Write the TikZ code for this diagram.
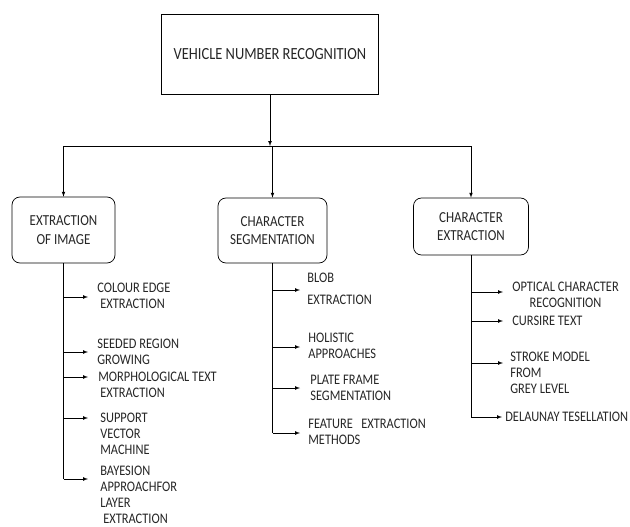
\documentclass[tikz,border=0pt]{standalone}
\usepackage{fontspec}
\setmainfont{Carlito}[FakeStretch=0.85]
\usetikzlibrary{positioning}

\begin{document}
\begin{tikzpicture}[x=1pt, y=-1pt, >=latex, line width=0.7pt,
  every node/.style={text=black!85, font=\fontsize{14.6}{16}\selectfont},
  mainbox/.style={draw, minimum width=217pt, minimum height=80pt, font=\fontsize{17}{19}\selectfont},
  catbox/.style={draw, rounded corners=8pt, align=center, inner sep=0pt, font=\fontsize{15.3}{18.5}\selectfont},
  item/.style={align=left, inner sep=0pt}]
\useasboundingbox (0,0) rectangle (630,527);
\node[mainbox] (vnr) at (270,54) {VEHICLE NUMBER RECOGNITION};
\node[catbox, minimum width=103pt, minimum height=66pt] (img) at (63.5,230) {EXTRACTION\\OF IMAGE};
\node[catbox, minimum width=109pt, minimum height=65pt] (seg) at (272.5,230.5) {CHARACTER\\SEGMENTATION};
\node[catbox, minimum width=115pt, minimum height=57pt] (chx) at (471,226.5) {CHARACTER\\EXTRACTION};
\coordinate (bus) at (270,146);
\draw[->] (vnr) -- (bus);
\draw (img.north |- bus) -- (chx.north |- bus);
\draw[->] (img.north |- bus) -- (img);
\draw[->] (seg.north |- bus) -- (seg);
\draw[->] (chx.north |- bus) -- (chx);
% extraction of image
\coordinate (i1) at (88,297);
\coordinate (i2) at (88,352);
\coordinate (i3) at (88,377);
\coordinate (i4) at (88,418);
\coordinate (i5) at (88,479);
\node[item, right=9pt of i1, yshift=1.5pt] (colour) {COLOUR EDGE\\\hspace{3pt}EXTRACTION};
\node[item, right=9pt of i2] (seeded) {SEEDED REGION\\GROWING};
\node[item, right=10pt of i3, yshift=-8pt] (morph) {MORPHOLOGICAL TEXT\\\hspace{2pt}EXTRACTION};
\node[item, right=12pt of i4, yshift=-16pt] (svm) {SUPPORT\\VECTOR\\MACHINE};
\node[item, right=12pt of i5, yshift=-16pt] (bayes) {BAYESION\\APPROACHFOR\\LAYER\\\hspace{3pt}EXTRACTION};
\draw (img.south) -- (img.south |- i5);
\draw[->] (img.south |- i1) -- (i1);
\draw[->] (img.south |- i2) -- (i2);
\draw[->] (img.south |- i3) -- (i3);
\draw[->] (img.south |- i4) -- (i4);
\draw[->] (img.south |- i5) -- (i5);
% character segmentation
\coordinate (s1) at (300,290);
\coordinate (s2) at (300,347);
\coordinate (s3) at (300,388);
\coordinate (s4) at (300,433);
\node[item, right=7pt of s1, yshift=1pt] (blob) {BLOB\\[6pt]EXTRACTION};
\node[item, right=8pt of s2, yshift=1pt] (holistic) {HOLISTIC\\APPROACHES};
\node[item, right=10pt of s3] (plate) {PLATE FRAME\\SEGMENTATION};
\node[item, right=8pt of s4, yshift=1.5pt] (feature) {FEATURE~~~EXTRACTION\\METHODS};
\draw (seg.south) -- (seg.south |- s4);
\draw[->] (seg.south |- s1) -- (s1);
\draw[->] (seg.south |- s2) -- (s2);
\draw[->] (seg.south |- s3) -- (s3);
\draw[->] (seg.south |- s4) -- (s4);
% character extraction
\coordinate (c1) at (503,292);
\coordinate (c2) at (503,321);
\coordinate (c3) at (503,363);
\coordinate (c4) at (502,417);
\node[item, align=center, right=9pt of c1, yshift=-3pt] (ocr) {OPTICAL CHARACTER\\RECOGNITION};
\node[item, right=9pt of c2] (cursire) {CURSIRE TEXT};
\node[item, right=7pt of c3, yshift=-10pt] (stroke) {STROKE MODEL\\FROM\\GREY LEVEL};
\node[item, right=3pt of c4] (delaunay) {DELAUNAY TESELLATION};
\draw (chx.south) -- (chx.south |- c4);
\draw[->] (chx.south |- c1) -- (c1);
\draw[->] (chx.south |- c2) -- (c2);
\draw[->] (chx.south |- c3) -- (c3);
\draw[->] (chx.south |- c4) -- (c4);
\end{tikzpicture}
\end{document}
